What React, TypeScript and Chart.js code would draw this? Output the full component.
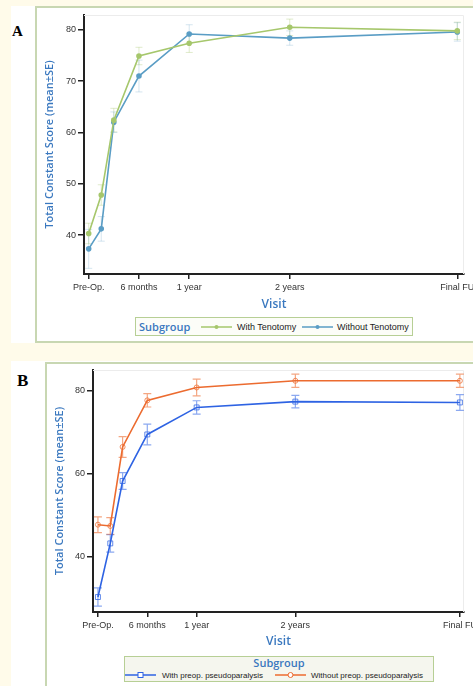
import React, { useEffect, useRef } from 'react';
import { Chart, registerables } from 'chart.js';
Chart.register(...registerables);

// ---- shared axis definitions ----
const visitMonths = [0, 1.5, 3, 6, 12, 24, 44];
const tickMonths = [0, 6, 12, 24, 44];
const tickLabels = ['Pre-Op.', '6 months', '1 year', '2 years', 'Final FU'];

// ---- Panel A ----
const yTicksA = [40, 50, 60, 70, 80];
const withTenotomy = [40.3, 47.8, 62.4, 74.9, 77.4, 80.5, 79.8];
const withTenotomySE = [2.0, 2.0, 2.3, 1.7, 1.8, 1.6, 1.7];
const withoutTenotomy = [37.3, 41.2, 62.0, 71.0, 79.2, 78.4, 79.6];
const withoutTenotomySE = [3.8, 2.4, 2.0, 3.1, 1.8, 1.4, 1.8];

// ---- Panel B ----
const yTicksB = [40, 60, 80];
const withPseudo = [30.3, 43.2, 58.2, 69.4, 75.9, 77.3, 77.1];
const withPseudoSE = [2.2, 2.1, 2.0, 2.5, 1.6, 1.5, 1.9];
const withoutPseudo = [47.7, 47.4, 66.4, 77.6, 80.7, 82.3, 82.3];
const withoutPseudoSE = [1.9, 2.0, 2.5, 1.6, 2.0, 1.6, 1.6];

const TITLE_BLUE = '#3a78bf';
const A_GREEN = '#a6c76c';
const A_BLUE = '#5a9dc5';
const B_BLUE = '#2e63e3';
const B_ORANGE = '#ec6b2f';

const errorBarPlugin = {
  id: 'errorBars',
  beforeDatasetsDraw(chart: any) {
    const { ctx } = chart;
    const xs = chart.scales.x;
    const ys = chart.scales.y;
    chart.data.datasets.forEach((ds: any) => {
      const errs: number[] = ds.errors;
      if (!errs) return;
      ctx.save();
      ctx.strokeStyle = ds.errorColor;
      ctx.lineWidth = ds.errorWidth || 1;
      const cap = ds.capHalf || 3.5;
      ds.data.forEach((p: any, j: number) => {
        const x = xs.getPixelForValue(p.x);
        const y1 = ys.getPixelForValue(p.y + errs[j]);
        const y2 = ys.getPixelForValue(p.y - errs[j]);
        ctx.beginPath();
        ctx.moveTo(x, y1);
        ctx.lineTo(x, y2);
        ctx.moveTo(x - cap, y1);
        ctx.lineTo(x + cap, y1);
        ctx.moveTo(x - cap, y2);
        ctx.lineTo(x + cap, y2);
        ctx.stroke();
      });
      ctx.restore();
    });
  },
};

const framePlugin = {
  id: 'faintFrame',
  beforeDatasetsDraw(chart: any) {
    const { ctx, chartArea } = chart;
    ctx.save();
    ctx.strokeStyle = '#ececec';
    ctx.lineWidth = 1;
    ctx.beginPath();
    ctx.moveTo(chartArea.left, chartArea.top + 0.5);
    ctx.lineTo(chartArea.right - 0.5, chartArea.top + 0.5);
    ctx.lineTo(chartArea.right - 0.5, chartArea.bottom);
    ctx.stroke();
    ctx.restore();
  },
};

function pts(vals: number[]) {
  return vals.map((v, i) => ({ x: visitMonths[i], y: v }));
}

interface Cfg {
  datasets: any[];
  xMin: number;
  xMax: number;
  yMin: number;
  yMax: number;
  yTicks: number[];
  yWidth: number;
  xHeight: number;
  padTop: number;
  padRight: number;
  yTitlePad: number;
  xTitlePad: number;
}

function makeConfig(c: Cfg): any {
  return {
    type: 'line',
    data: { datasets: c.datasets },
    plugins: [framePlugin, errorBarPlugin],
    options: {
      animation: false,
      responsive: false,
      maintainAspectRatio: false,
      layout: { padding: { top: c.padTop, right: c.padRight, left: 0, bottom: 0 } },
      plugins: { legend: { display: false }, tooltip: { enabled: false } },
      scales: {
        x: {
          type: 'linear',
          min: c.xMin,
          max: c.xMax,
          afterBuildTicks: (s: any) => {
            s.ticks = tickMonths.map((v) => ({ value: v }));
          },
          afterFit: (s: any) => {
            s.height = c.xHeight;
            s.paddingLeft = 0;
            s.paddingRight = 0;
          },
          grid: {
            display: true,
            drawOnChartArea: false,
            drawTicks: true,
            tickLength: 5,
            color: '#222',
            lineWidth: 1.5,
          },
          border: { display: true, color: '#222', width: 2 },
          ticks: {
            autoSkip: false,
            maxRotation: 0,
            padding: 3,
            color: '#333',
            font: { family: 'Liberation Sans, Arial, sans-serif', size: 9 },
            callback: (v: number) => {
              const i = tickMonths.indexOf(v);
              return i >= 0 ? tickLabels[i] : '';
            },
          },
          title: {
            display: true,
            text: 'Visit',
            color: TITLE_BLUE,
            font: { family: 'Open Sans', size: 12, weight: '600' },
            padding: { top: 0, bottom: c.xTitlePad },
          },
        },
        y: {
          type: 'linear',
          min: c.yMin,
          max: c.yMax,
          afterBuildTicks: (s: any) => {
            s.ticks = c.yTicks.map((v) => ({ value: v }));
          },
          afterFit: (s: any) => {
            s.width = c.yWidth;
            s.paddingTop = 0;
            s.paddingBottom = 0;
          },
          grid: {
            display: true,
            drawOnChartArea: false,
            drawTicks: true,
            tickLength: 6,
            color: '#222',
            lineWidth: 1.5,
          },
          border: { display: true, color: '#222', width: 2 },
          ticks: {
            padding: 2,
            color: '#333',
            font: { family: 'Liberation Sans, Arial, sans-serif', size: 9 },
          },
          title: {
            display: true,
            text: 'Total Constant Score (mean±SE)',
            color: TITLE_BLUE,
            font: { family: 'Open Sans', size: 11, weight: '600' },
            padding: { top: c.yTitlePad, bottom: 0 },
          },
        },
      },
    },
  };
}

function ChartCanvas({ cfg, left, top, width, height }: { cfg: () => any; left: number; top: number; width: number; height: number }) {
  const ref = useRef<HTMLCanvasElement>(null);
  useEffect(() => {
    if (!ref.current) return;
    const chart = new Chart(ref.current, cfg());
    return () => chart.destroy();
  }, []);
  return (
    <canvas
      ref={ref}
      width={width}
      height={height}
      style={{ position: 'absolute', left, top, width, height }}
    />
  );
}

const cfgA = () =>
  makeConfig({
    datasets: [
      {
        label: 'With Tenotomy',
        data: pts(withTenotomy),
        errors: withTenotomySE,
        errorColor: 'rgba(166,199,108,0.35)',
        errorWidth: 1,
        capHalf: 3.5,
        borderColor: A_GREEN,
        backgroundColor: A_GREEN,
        borderWidth: 1.6,
        pointRadius: 2,
        pointStyle: 'circle',
        tension: 0,
      },
      {
        label: 'Without Tenotomy',
        data: pts(withoutTenotomy),
        errors: withoutTenotomySE,
        errorColor: 'rgba(90,157,197,0.25)',
        errorWidth: 1,
        capHalf: 3.5,
        borderColor: A_BLUE,
        backgroundColor: A_BLUE,
        borderWidth: 1.6,
        pointRadius: 2,
        pointStyle: 'circle',
        tension: 0,
      },
    ],
    xMin: -0.56,
    xMax: 44.8,
    yMin: 32.4,
    yMax: 82.9,
    yTicks: yTicksA,
    yWidth: 48,
    xHeight: 43,
    padTop: 8,
    padRight: 9,
    yTitlePad: 7.4,
    xTitlePad: 5.5,
  });

const cfgB = () =>
  makeConfig({
    datasets: [
      {
        label: 'With preop. pseudoparalysis',
        data: pts(withPseudo),
        errors: withPseudoSE,
        errorColor: 'rgba(46,99,227,0.55)',
        errorWidth: 1.2,
        capHalf: 4,
        borderColor: B_BLUE,
        backgroundColor: 'rgba(255,255,255,0)',
        borderWidth: 1.6,
        pointRadius: 3.5,
        pointBorderWidth: 1,
        pointStyle: 'rect',
        pointBorderColor: 'rgba(46,99,227,0.75)',
        tension: 0,
      },
      {
        label: 'Without preop. pseudoparalysis',
        data: pts(withoutPseudo),
        errors: withoutPseudoSE,
        errorColor: 'rgba(236,107,47,0.6)',
        errorWidth: 1.2,
        capHalf: 4,
        borderColor: B_ORANGE,
        backgroundColor: 'rgba(255,255,255,0)',
        borderWidth: 1.6,
        pointRadius: 2.5,
        pointBorderWidth: 1,
        pointStyle: 'circle',
        pointBorderColor: 'rgba(236,107,47,0.75)',
        tension: 0,
      },
    ],
    xMin: -0.6,
    xMax: 44.5,
    yMin: 26.7,
    yMax: 84.9,
    yTicks: yTicksB,
    yWidth: 47,
    xHeight: 41,
    padTop: 7,
    padRight: 9,
    yTitlePad: 7.7,
    xTitlePad: 4.7,
  });

const legendText: React.CSSProperties = {
  position: 'absolute',
  fontFamily: 'Liberation Sans, Arial, sans-serif',
  fontSize: 9,
  color: '#222',
  whiteSpace: 'nowrap',
  lineHeight: '10px',
};
const legendTitle: React.CSSProperties = {
  position: 'absolute',
  fontFamily: 'Open Sans',
  fontWeight: 600,
  fontSize: 11,
  color: TITLE_BLUE,
  whiteSpace: 'nowrap',
  lineHeight: '14px',
};

function Sample({ left, cy, color, marker }: { left: number; cy: number; color: string; marker: 'dot' | 'square' | 'circle' }) {
  return (
    <svg style={{ position: 'absolute', left, top: cy - 5 }} width={31} height={10}>
      <line x1={0} y1={5} x2={31} y2={5} stroke={color} strokeWidth={1.5} />
      {marker === 'dot' && <circle cx={15.5} cy={5} r={2} fill={color} />}
      {marker === 'square' && <rect x={13} y={2.5} width={5} height={5} fill="white" stroke={color} strokeWidth={1} />}
      {marker === 'circle' && <circle cx={15.5} cy={5} r={2.5} fill="white" stroke={color} strokeWidth={1} />}
    </svg>
  );
}

export default function App() {
  return (
    <div
      style={{
        position: 'fixed',
        left: 0,
        top: 0,
        width: 473,
        height: 686,
        background: '#fffbea',
        overflow: 'hidden',
      }}
    >
      {/* Panel A */}
      <div style={{ position: 'absolute', left: 11, top: 6, width: 462, height: 337, background: '#fff' }} />
      <div
        style={{
          position: 'absolute',
          left: 35,
          top: 6,
          width: 470,
          height: 337,
          border: '2px solid #c8d7b2',
          boxSizing: 'border-box',
        }}
      />
      <div
        style={{
          position: 'absolute',
          left: 12,
          top: 24,
          fontFamily: 'Liberation Serif, serif',
          fontWeight: 700,
          fontSize: 15,
          lineHeight: '15px',
          color: '#000',
        }}
      >
        A
      </div>
      <ChartCanvas cfg={cfgA} left={36} top={7} width={437} height={310} />
      <div
        style={{
          position: 'absolute',
          left: 135,
          top: 317,
          width: 278,
          height: 19,
          border: '1.5px solid #b7cf95',
          background: '#fcfdf8',
          boxSizing: 'border-box',
        }}
      />
      <div style={{ ...legendTitle, left: 139, top: 319.5 }}>Subgroup</div>
      <Sample left={201} cy={326.5} color={A_GREEN} marker="dot" />
      <div style={{ ...legendText, left: 237, top: 321.5 }}>With Tenotomy</div>
      <Sample left={302} cy={326.5} color={A_BLUE} marker="dot" />
      <div style={{ ...legendText, left: 337, top: 321.5 }}>Without Tenotomy</div>

      {/* Panel B */}
      <div style={{ position: 'absolute', left: 11, top: 361, width: 462, height: 330, background: '#fff' }} />
      <div
        style={{
          position: 'absolute',
          left: 45,
          top: 362,
          width: 470,
          height: 340,
          border: '2px solid #c8d7b2',
          boxSizing: 'border-box',
        }}
      />
      <div
        style={{
          position: 'absolute',
          left: 17,
          top: 372,
          fontFamily: 'Liberation Serif, serif',
          fontWeight: 700,
          fontSize: 17,
          lineHeight: '17px',
          color: '#000',
        }}
      >
        B
      </div>
      <ChartCanvas cfg={cfgB} left={46} top={363} width={427} height={290} />
      <div
        style={{
          position: 'absolute',
          left: 124,
          top: 656,
          width: 310,
          height: 26,
          border: '1.5px solid #b7cf95',
          background: '#f5f6ee',
          boxSizing: 'border-box',
        }}
      />
      <div style={{ ...legendTitle, left: 124, width: 310, textAlign: 'center', top: 656 }}>Subgroup</div>
      <Sample left={125} cy={675} color={B_BLUE} marker="square" />
      <div style={{ ...legendText, fontSize: 8, left: 162, top: 670.5 }}>With preop. pseudoparalysis</div>
      <Sample left={275} cy={675} color={B_ORANGE} marker="circle" />
      <div style={{ ...legendText, fontSize: 8, left: 311, top: 670.5 }}>Without preop. pseudoparalysis</div>
    </div>
  );
}
